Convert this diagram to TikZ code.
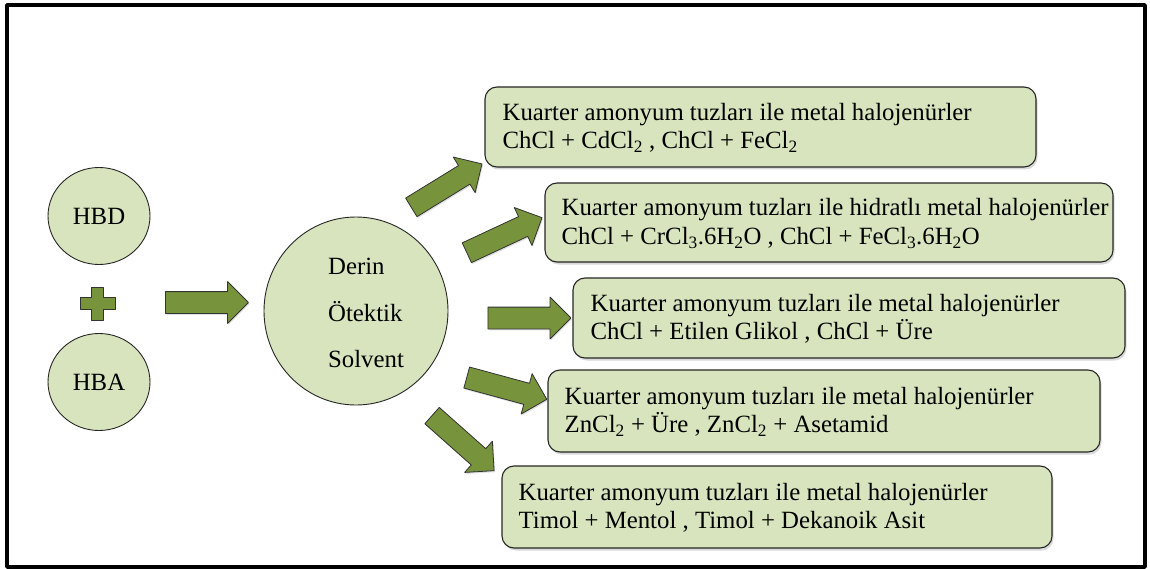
\documentclass[tikz,border=0pt]{standalone}
\usepackage{fontspec}
\setmainfont{Liberation Serif}
\usetikzlibrary{shapes.geometric,shapes.arrows,shadows,positioning}
\definecolor{paleolive}{RGB}{215,228,189}
\definecolor{arrowgreen}{RGB}{119,147,60}
\begin{document}
\begin{tikzpicture}[x=1pt,y=-1pt,line join=round,font=\fontsize{24.8}{28.5}\selectfont,
	soft/.style={ellipse,draw=black!85,line width=.9pt,fill=paleolive,inner sep=0},
	cbox/.style={rectangle,rounded corners=12pt,draw=black!85,line width=1.1pt,fill=paleolive,
		drop shadow={opacity=.3,shadow xshift=1.5pt,shadow yshift=-2.5pt}},
	ktext/.style={align=left,inner sep=0,yshift=-1pt},
	blockarrow/.style={single arrow,draw=black!80,line width=.8pt,fill=arrowgreen,
		minimum height=83pt,minimum width=41pt,single arrow head extend=10pt,
		inner xsep=0,inner ysep=10.5pt,
		drop shadow={opacity=.25,shadow xshift=1pt,shadow yshift=-1.5pt}}]
	\useasboundingbox (0,0) rectangle (1150,569);
	\draw[line width=3.5pt] (7,5) rectangle (1145,567);
	% ingredients
	\node[soft,minimum width=102,minimum height=97] (hbd) at (99,216) {HBD};
	\node[soft,minimum width=102,minimum height=97] (hba) at (99,382) {HBA};
	\filldraw[fill=arrowgreen,draw=black!80,line width=.8pt]
	(91,287)--(103,287)--(103,297)--(115,297)--(115,309)--(103,309)
	--(103,320)--(91,320)--(91,309)--(80,309)--(80,297)--(91,297)--cycle;
	% solvent
	\node[soft,minimum width=184,minimum height=188] (des) at (356,311) {};
	\node[ktext,yshift=-3pt,font=\fontsize{24.8}{46.5}\selectfont] (dest) at (366,309) {Derin\\Ötektik\\Solvent};
	% arrows
	\foreach \n/\x/\y/\a in {a0/201.5/302.5/0, a1/442/188.5/31.6, a2/499.5/237.5/25,
		a3/524/318/0, a4/501.5/387/-15.2, a5/459/439.5/-41.6}
	\node[blockarrow,rotate=\a] (\n) at (\x,\y) {};
	% examples
	\node[cbox,minimum width=551,minimum height=80] (k1) at (760.5,127) {};
	\node[ktext,right=18pt of k1.west] (t1) {Kuarter amonyum tuzları ile metal halojenürler\\
		ChCl + CdCl\textsubscript{2} , ChCl + FeCl\textsubscript{2}};
	\node[cbox,minimum width=568,minimum height=79] (k2) at (829,222.5) {};
	\node[ktext,right=17pt of k2.west] (t2) {Kuarter amonyum tuzları ile hidratlı metal halojenürler\\
		ChCl + CrCl\textsubscript{3}.6H\textsubscript{2}O , ChCl + FeCl\textsubscript{3}.6H\textsubscript{2}O};
	\node[cbox,minimum width=552,minimum height=80] (k3) at (849,318) {};
	\node[ktext,right=18pt of k3.west] (t3) {Kuarter amonyum tuzları ile metal halojenürler\\
		ChCl + Etilen Glikol , ChCl + Üre};
	\node[cbox,minimum width=552,minimum height=82] (k4) at (824,411) {};
	\node[ktext,right=17pt of k4.west] (t4) {Kuarter amonyum tuzları ile metal halojenürler\\
		ZnCl\textsubscript{2} + Üre , ZnCl\textsubscript{2} + Asetamid};
	\node[cbox,minimum width=550,minimum height=82] (k5) at (777,507) {};
	\node[ktext,right=17pt of k5.west] (t5) {Kuarter amonyum tuzları ile metal halojenürler\\
		Timol + Mentol , Timol + Dekanoik Asit};
\end{tikzpicture}
\end{document}
